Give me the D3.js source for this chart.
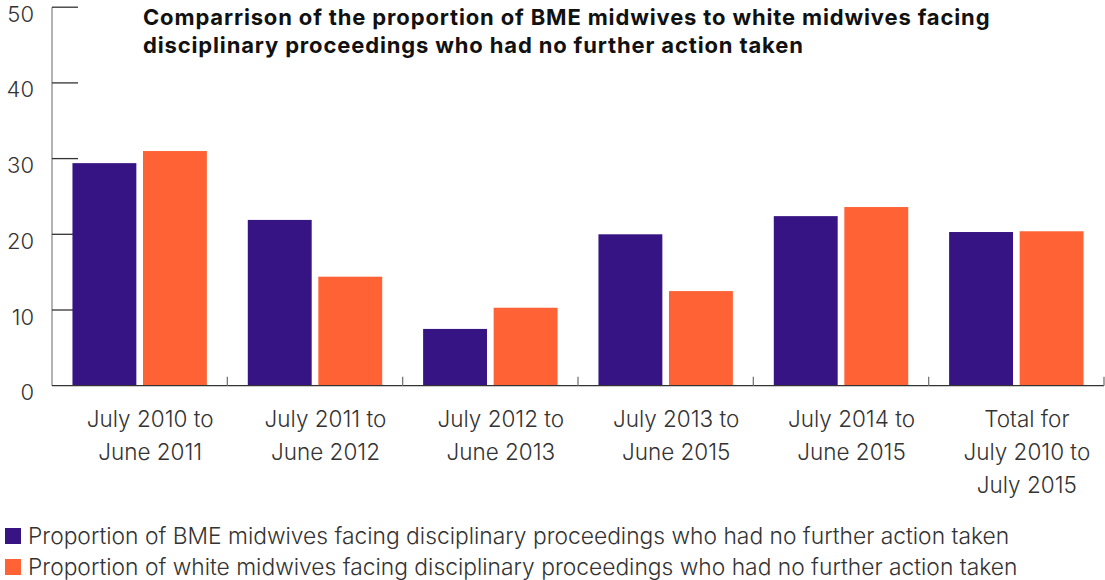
<!DOCTYPE html>
<html>
<head>
<meta charset="utf-8">
<script src="https://cdn.jsdelivr.net/npm/d3@7"></script>
<style>
  html, body { margin: 0; padding: 0; background: #fff; }
  svg { display: block; }
  text { font-family: Inter, "Noto Sans", sans-serif; }
</style>
</head>
<body>
<svg id="chart" width="1105" height="580"></svg>
<script>
const categories = [
  ["July 2010 to", "June 2011"],
  ["July 2011 to", "June 2012"],
  ["July 2012 to", "June 2013"],
  ["July 2013 to", "June 2015"],
  ["July 2014 to", "June 2015"],
  ["Total for", "July 2010 to", "July 2015"]
];
const bmeValues = [29.4, 21.9, 7.5, 20.0, 22.4, 20.3];
const whiteValues = [31.0, 14.4, 10.3, 12.5, 23.6, 20.4];
const seriesNames = [
  "Proportion of BME midwives facing disciplinary proceedings who had no further action taken",
  "Proportion of white midwives facing disciplinary proceedings who had no further action taken"
];
const seriesColors = ["#371483", "#FF6234"];
const yTicks = [0, 10, 20, 30, 40, 50];
const titleLines = [
  "Comparrison of the proportion of BME midwives to white midwives facing",
  "disciplinary proceedings who had no further action taken"
];

(function () {
const svg = d3.select("#chart");
const mLeft = 52, mRight = 1104, mTop = 7.2, mBottom = 385.7;

const x = d3.scaleBand().domain(d3.range(categories.length)).range([mLeft, mRight]).paddingInner(0).paddingOuter(0);
const xs = d3.scaleBand().domain([0, 1]).range([0, x.bandwidth()]).paddingInner(0.094).paddingOuter(0.29);
const y = d3.scaleLinear().domain([0, 50]).range([mBottom, mTop]);

svg.append("line").attr("x1", mLeft).attr("x2", mLeft).attr("y1", mTop).attr("y2", mBottom)
  .attr("stroke", "#8a8a8a").attr("stroke-width", 1.3);

const yAxis = svg.append("g");
yTicks.forEach(t => {
  if (t > 0) {
    yAxis.append("line").attr("x1", mLeft).attr("x2", mLeft + 26).attr("y1", y(t)).attr("y2", y(t))
      .attr("stroke", "#333").attr("stroke-width", 1.3);
  }
  yAxis.append("text").attr("x", 34).attr("y", y(t) + 14.5).attr("text-anchor", "end")
    .attr("font-size", 22).attr("font-weight", 300).attr("fill", "#333").text(t);
});

const data = categories.map((c, i) => [bmeValues[i], whiteValues[i]]);
const groups = svg.append("g").selectAll("g").data(data).join("g")
  .attr("transform", (d, i) => `translate(${x(i)},0)`);
groups.selectAll("rect").data(d => d).join("rect")
  .attr("x", (d, j) => xs(j))
  .attr("width", xs.bandwidth())
  .attr("y", d => y(d))
  .attr("height", d => y(0) - y(d))
  .attr("fill", (d, j) => seriesColors[j]);

svg.append("line").attr("x1", mLeft).attr("x2", mRight).attr("y1", mBottom).attr("y2", mBottom)
  .attr("stroke", "#333").attr("stroke-width", 1.3);
d3.range(1, categories.length + 1).forEach(i => {
  const xv = x(i - 1) + x.step();
  svg.append("line").attr("x1", xv).attr("x2", xv).attr("y1", mBottom - 9).attr("y2", mBottom)
    .attr("stroke", "#777").attr("stroke-width", 1.3);
});

categories.forEach((lines, i) => {
  const t = svg.append("text").attr("text-anchor", "middle")
    .attr("font-size", 22.5).attr("font-weight", 300).attr("fill", "#333");
  lines.forEach((l, k) => {
    t.append("tspan").attr("x", x(i) + x.bandwidth() / 2 + 10.5).attr("y", 427 + k * 33).text(l);
  });
});

const title = svg.append("text").attr("font-size", 22).attr("font-weight", 700)
  .attr("letter-spacing", 0.85).attr("fill", "#111");
titleLines.forEach((l, k) => {
  title.append("tspan").attr("x", 143).attr("y", 25 + k * 28).text(l);
});

seriesNames.forEach((n, k) => {
  const cy = 536 + k * 31;
  svg.append("rect").attr("x", 5).attr("y", cy - 8).attr("width", 16).attr("height", 16).attr("fill", seriesColors[k]);
  svg.append("text").attr("x", 28).attr("y", cy + 7.5).attr("font-size", 22.8).attr("font-weight", 300)
    .attr("fill", "#333").text(n);
});
})();
</script>
</body>
</html>
